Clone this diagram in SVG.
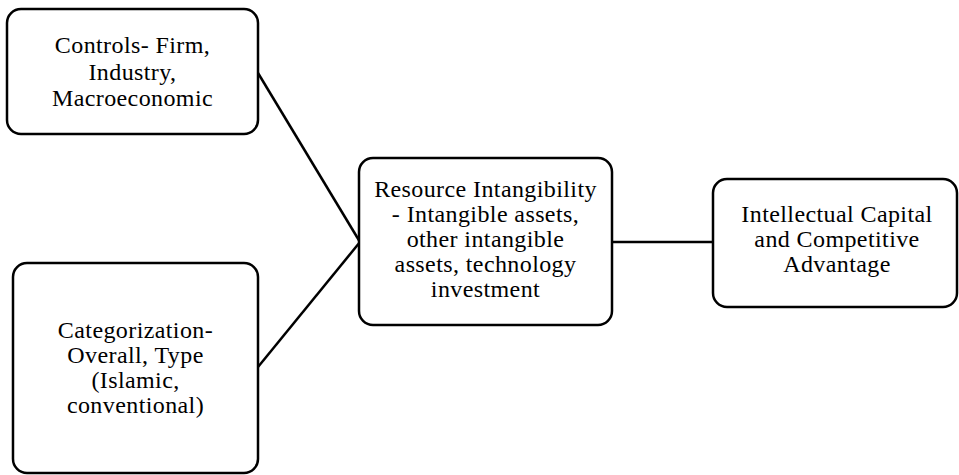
<svg xmlns="http://www.w3.org/2000/svg" width="959" height="475" viewBox="0 0 959 475">
<style>
.box{fill:#fff;stroke:#000;stroke-width:2.5}
.t{font-family:"Liberation Serif","Times New Roman",serif;font-size:24px;letter-spacing:0.4px;fill:#000;text-anchor:middle}
.c{stroke:#000;stroke-width:2.5;fill:none}
</style>
<rect width="959" height="475" fill="#fff"/>
<g id="connectors">
<line class="c" x1="258" y1="73" x2="360" y2="242"/>
<line class="c" x1="258" y1="367" x2="360" y2="242"/>
<line class="c" x1="612" y1="242" x2="713" y2="242"/>
</g>
<g id="controls">
<rect class="box" x="7" y="9" width="251" height="125" rx="14"/>
<text class="t" x="132.5" y="53">Controls- Firm,</text>
<text class="t" x="132.5" y="80">Industry,</text>
<text class="t" x="132.5" y="106">Macroeconomic</text>
</g>
<g id="categorization">
<rect class="box" x="13" y="263" width="245" height="210" rx="14"/>
<text class="t" x="135.5" y="338">Categorization-</text>
<text class="t" x="135.5" y="363">Overall, Type</text>
<text class="t" x="135.5" y="388">(Islamic,</text>
<text class="t" x="135.5" y="413">conventional)</text>
</g>
<g id="resource">
<rect class="box" x="359" y="158" width="253" height="167" rx="14"/>
<text class="t" x="485.5" y="197">Resource Intangibility</text>
<text class="t" x="485.5" y="222">- Intangible assets,</text>
<text class="t" x="485.5" y="247">other intangible</text>
<text class="t" x="485.5" y="272">assets, technology</text>
<text class="t" x="485.5" y="297">investment</text>
</g>
<g id="intellectual">
<rect class="box" x="713" y="179" width="244" height="128" rx="14"/>
<text class="t" x="837" y="222">Intellectual Capital</text>
<text class="t" x="837" y="247">and Competitive</text>
<text class="t" x="837" y="272">Advantage</text>
</g>
</svg>
